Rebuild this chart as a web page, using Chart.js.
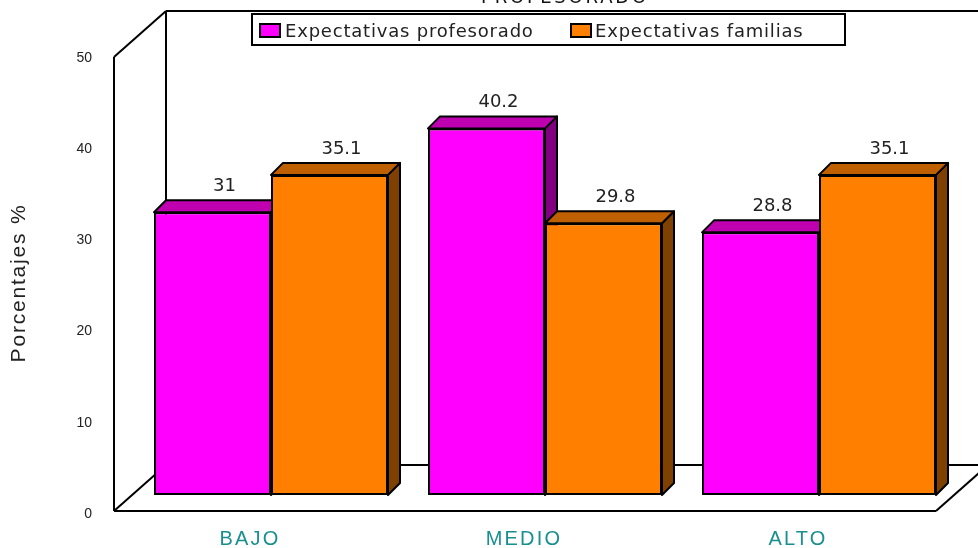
<!DOCTYPE html>
<html>
<head>
<meta charset="utf-8">
<title>Expectativas</title>
<script src="https://cdn.jsdelivr.net/npm/chart.js@4"></script>
<style>
  html, body { margin: 0; padding: 0; background: #fff; }
  #wrap { width: 978px; height: 548px; }
</style>
</head>
<body>
<div id="wrap"><canvas id="chart" width="978" height="548"></canvas></div>
<script>
var categories = ["BAJO", "MEDIO", "ALTO"];
var profesorado = [31, 40.2, 28.8];
var familias = [35.1, 29.8, 35.1];
var yMax = 50;
var yStep = 10;

var wallX = 52, wallY = 46;   // depth of the box
var barDepth = 12;            // depth of each bar
var textFont = "18px 'DejaVu Sans'";

function face(ctx, pts, fill) {
  ctx.beginPath();
  ctx.moveTo(pts[0][0], pts[0][1]);
  for (var i = 1; i < pts.length; i++) ctx.lineTo(pts[i][0], pts[i][1]);
  ctx.closePath();
  ctx.fillStyle = fill;
  ctx.fill();
  ctx.lineWidth = 2;
  ctx.lineJoin = "round";
  ctx.strokeStyle = "#000";
  ctx.stroke();
}

function line(ctx, x1, y1, x2, y2) {
  ctx.beginPath();
  ctx.moveTo(x1, y1);
  ctx.lineTo(x2, y2);
  ctx.stroke();
}

var box3d = {
  id: "box3d",
  afterLayout: function(chart) {
    // category labels are spaced out, the value ticks are not
    var xs = chart.scales.x, drawLabels = xs.drawLabels;
    xs.drawLabels = function(area) {
      chart.ctx.letterSpacing = "2.2px";
      drawLabels.call(xs, area);
      chart.ctx.letterSpacing = "0px";
    };
  },
  beforeDatasetsDraw: function(chart) {
    var ctx = chart.ctx, a = chart.chartArea;
    var fx = a.left - 20, fb = a.bottom + 16, ft = a.top + 18;
    ctx.save();
    ctx.strokeStyle = "#000";
    ctx.lineWidth = 2;
    line(ctx, fx, ft, fx, fb);
    line(ctx, fx, ft, fx + wallX, ft - wallY);
    line(ctx, fx + wallX, ft - wallY, fx + wallX, fb - wallY);
    line(ctx, fx + wallX, ft - wallY, chart.width, ft - wallY);
    line(ctx, fx, fb, fx + wallX, fb - wallY);
    line(ctx, fx + wallX, fb - wallY, chart.width, fb - wallY);
    line(ctx, fx, fb, a.right - 20, fb);
    line(ctx, a.right - 20, fb, a.right - 20 + wallX, fb - wallY);

    // title runs off the top edge
    ctx.fillStyle = "#111";
    ctx.font = textFont;
    ctx.letterSpacing = "2.8px";
    ctx.textAlign = "center";
    ctx.textBaseline = "alphabetic";
    ctx.fillText("PROFESORADO", 565, 3);

    // value axis caption
    ctx.translate(19, 283);
    ctx.rotate(-Math.PI / 2);
    ctx.font = "21px 'Liberation Sans'";
    ctx.letterSpacing = "1.8px";
    ctx.fillStyle = "#222";
    ctx.textBaseline = "middle";
    ctx.fillText("Porcentajes %", 0, 0);
    ctx.restore();
  },
  beforeDatasetDraw: function() {
    return false;
  },
  afterDatasetsDraw: function(chart) {
    var ctx = chart.ctx;
    var shades = [
      { top: "#BF00B0", side: "#800080" },
      { top: "#BF6000", side: "#804000" }
    ];
    ctx.save();
    for (var c = 0; c < categories.length; c++) {
      for (var d = 0; d < chart.data.datasets.length; d++) {
        var bar = chart.getDatasetMeta(d).data[c];
        var l = bar.x - bar.width / 2, r = bar.x + bar.width / 2;
        face(ctx, [[r, bar.y], [r + barDepth, bar.y - barDepth], [r + barDepth, bar.base - barDepth], [r, bar.base]], shades[d].side);
        face(ctx, [[l, bar.y], [l + barDepth, bar.y - barDepth], [r + barDepth, bar.y - barDepth], [r, bar.y]], shades[d].top);
        bar.draw(ctx);
      }
    }
    // value labels above the top faces
    ctx.font = textFont;
    ctx.fillStyle = "#222";
    ctx.textAlign = "center";
    ctx.textBaseline = "middle";
    for (var d2 = 0; d2 < chart.data.datasets.length; d2++) {
      var ds = chart.data.datasets[d2];
      for (var c2 = 0; c2 < ds.data.length; c2++) {
        var b = chart.getDatasetMeta(d2).data[c2];
        ctx.fillText(String(ds.data[c2]), b.x + barDepth, b.y - 26);
      }
    }
    ctx.restore();
  },
  afterDraw: function(chart) {
    // legend box on the back wall
    var ctx = chart.ctx, sets = chart.data.datasets;
    var swatchX = [260, 571], textX = [285, 595];
    ctx.save();
    ctx.fillStyle = "#fff";
    ctx.strokeStyle = "#000";
    ctx.lineWidth = 2;
    ctx.fillRect(252, 14, 593, 31);
    ctx.strokeRect(252, 14, 593, 31);
    ctx.font = textFont;
    ctx.letterSpacing = "0.8px";
    ctx.textAlign = "left";
    ctx.textBaseline = "middle";
    for (var i = 0; i < sets.length; i++) {
      ctx.fillStyle = sets[i].backgroundColor;
      ctx.fillRect(swatchX[i], 24, 20, 13);
      ctx.strokeRect(swatchX[i], 24, 20, 13);
      ctx.fillStyle = "#222";
      ctx.fillText(sets[i].label, textX[i], 32);
    }
    ctx.restore();
  }
};

var ctx = document.getElementById("chart").getContext("2d");
var chart = new Chart(ctx, {
  type: "bar",
  data: {
    labels: categories,
    datasets: [{
      label: "Expectativas profesorado",
      data: profesorado,
      backgroundColor: "#FF00FF",
      borderColor: "#000",
      borderWidth: 2,
      borderSkipped: false,
      inflateAmount: 0
    }, {
      label: "Expectativas familias",
      data: familias,
      backgroundColor: "#FF8000",
      borderColor: "#000",
      borderWidth: 2,
      borderSkipped: false,
      inflateAmount: 0
    }]
  },
  options: {
    responsive: false,
    animation: false,
    layout: { autoPadding: false, padding: { top: 39, right: 22, bottom: 0, left: 0 } },
    categoryPercentage: 0.854,
    barPercentage: 1,
    plugins: {
      title: { display: false },
      tooltip: { enabled: false },
      legend: { display: false }
    },
    scales: {
      x: {
        grid: { display: false, drawTicks: false },
        border: { display: false },
        afterFit: function(scale) {
          scale.height = 53;
          scale.paddingLeft = scale.paddingRight = 0;
        },
        ticks: {
          labelOffset: -21,
          padding: 32,
          color: "#1A8F8F",
          font: { family: "'Liberation Sans'", size: 20 }
        }
      },
      y: {
        min: 0,
        max: yMax,
        grid: { display: false, drawTicks: false },
        border: { display: false },
        afterFit: function(scale) {
          scale.width = 134;
          scale.paddingTop = scale.paddingBottom = 0;
        },
        ticks: {
          stepSize: yStep,
          labelOffset: 19,
          padding: 42,
          color: "#222",
          font: { family: "'Liberation Sans'", size: 14 }
        }
      }
    }
  },
  plugins: [box3d]
});
</script>
</body>
</html>
